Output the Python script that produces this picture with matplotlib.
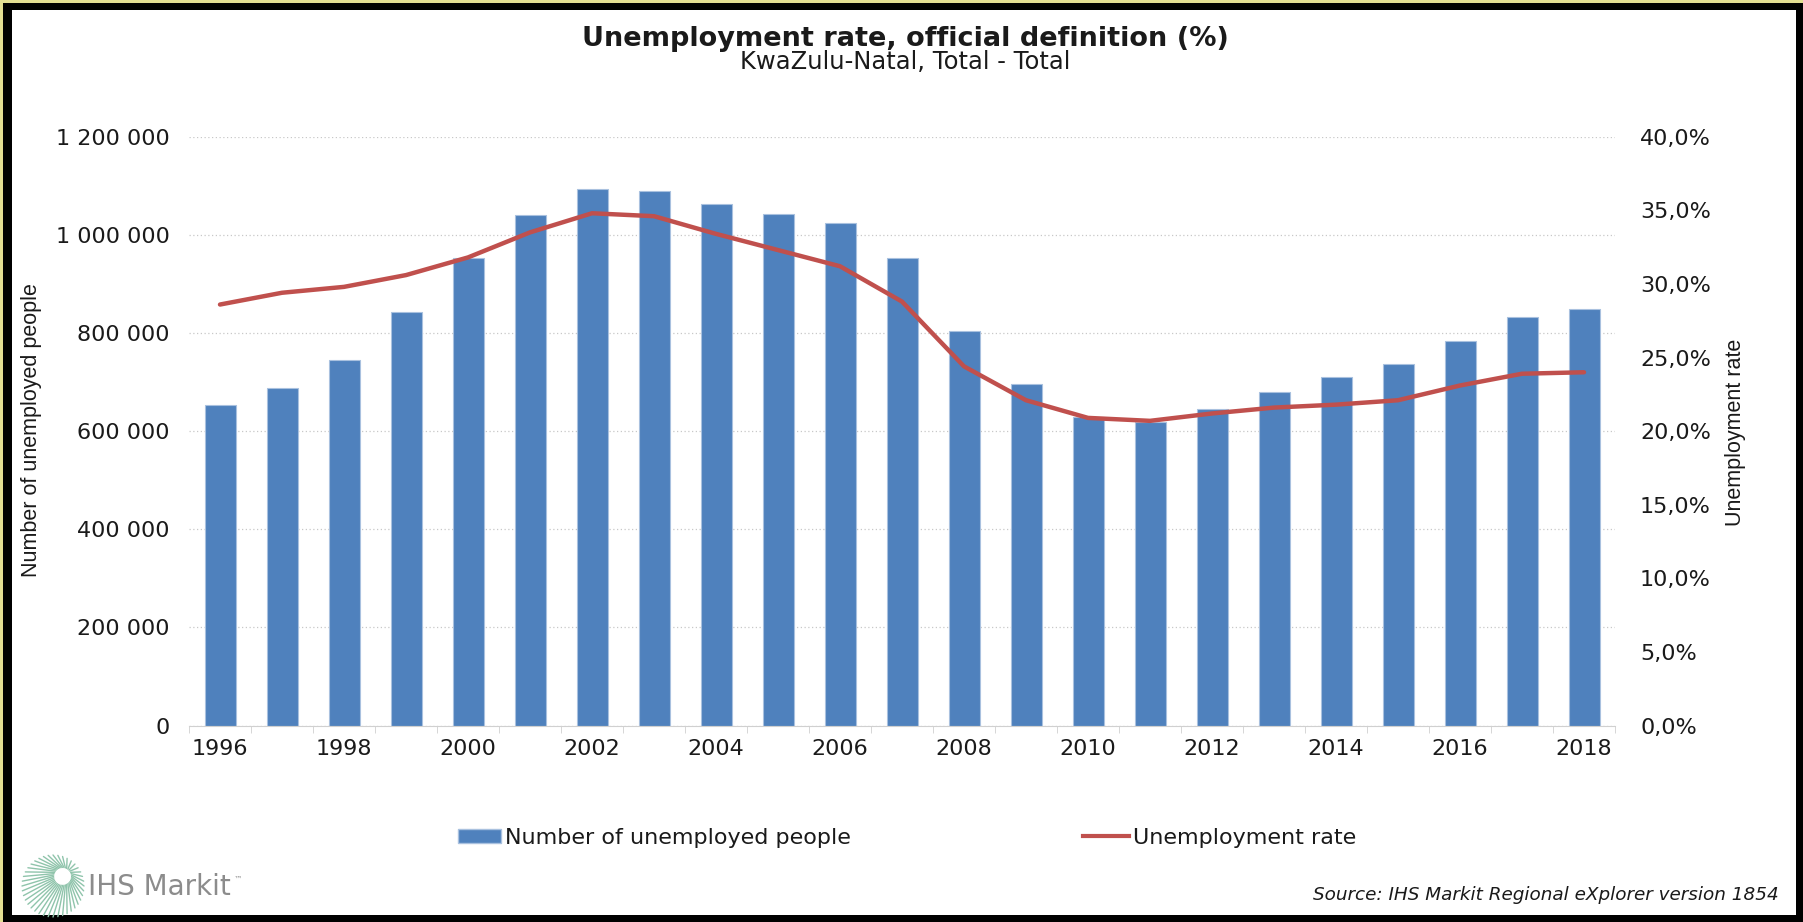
import matplotlib
matplotlib.use('Agg')
import matplotlib.pyplot as plt
from matplotlib.patches import Rectangle, Patch
from matplotlib.lines import Line2D
from matplotlib.ticker import FuncFormatter, MultipleLocator
import numpy as np

# KwaZulu-Natal unemployment, official definition
years = list(range(1996, 2019))
unemployed = [653000, 688000, 745000, 843000, 952000, 1040000, 1093000, 1089000,
              1062000, 1043000, 1024000, 953000, 804000, 696000, 628000, 618000,
              645000, 680000, 711000, 737000, 783000, 832000, 848000]
rate = [28.6, 29.4, 29.8, 30.6, 31.8, 33.5, 34.8, 34.6, 33.4, 32.3, 31.2, 28.8,
        24.4, 22.1, 20.9, 20.7, 21.2, 21.6, 21.8, 22.1, 23.1, 23.9, 24.0]

title = 'Unemployment rate, official definition (%)'
subtitle = 'KwaZulu-Natal, Total - Total'
source = 'Source: IHS Markit Regional eXplorer version 1854'

bar_color = '#4f81bd'
bar_edge = '#a9c1df'
line_color = '#c0504d'
text_color = '#1a1a1a'

W, H = 1803, 922


def px_box(x0, y0, x1, y1):
    # pixel box (top-left origin) -> figure fraction rect
    return (x0 / W, 1 - y1 / H, (x1 - x0) / W, (y1 - y0) / H)


fig = plt.figure(figsize=(W / 100, H / 100), dpi=100)
fig.patch.set_facecolor('#e2de92')

# black frame with white panel inside
fig.add_artist(Rectangle(px_box(3, 3, W, H)[:2], *px_box(3, 3, W, H)[2:],
                         transform=fig.transFigure, facecolor='black',
                         edgecolor='none', zorder=-10))
fig.add_artist(Rectangle(px_box(12, 10, 1796, 915)[:2], *px_box(12, 10, 1796, 915)[2:],
                         transform=fig.transFigure, facecolor='white',
                         edgecolor='none', zorder=-9))

ax = fig.add_axes(px_box(189, 136.7, 1615, 725.6))
ax.set_facecolor('none')
x = np.arange(len(years))

ax.bar(x, unemployed, width=0.5, color=bar_color, edgecolor=bar_edge,
       linewidth=0.8, zorder=2)
ax.set_xlim(-0.5, len(years) - 0.5)
ax.set_ylim(0, 1200000)
ax.yaxis.set_major_locator(MultipleLocator(200000))
ax.yaxis.set_major_formatter(FuncFormatter(lambda v, _: f"{int(v):,}".replace(',', ' ')))
ax.grid(axis='y', linestyle=(0, (1, 2)), color='#c8c8c8', linewidth=0.9)
ax.set_axisbelow(True)
for s in ['top', 'right', 'left']:
    ax.spines[s].set_visible(False)
ax.spines['bottom'].set_color('#d0d0d0')
ax.set_xticks(x[::2])
ax.set_xticklabels(years[::2])
ax.set_xticks(np.arange(-0.5, len(years)), minor=True)
ax.tick_params(axis='x', which='major', length=0, pad=10, labelsize=16,
               labelcolor=text_color)
ax.tick_params(axis='x', which='minor', length=5, color='#d0d0d0')
ax.tick_params(axis='y', length=0, pad=14, labelsize=16, labelcolor=text_color)

ax2 = ax.twinx()
ax2.plot(x, rate, color=line_color, linewidth=3.2, solid_capstyle='round',
         solid_joinstyle='round')
ax2.set_ylim(0, 40)
ax2.yaxis.set_major_locator(MultipleLocator(5))
ax2.yaxis.set_major_formatter(FuncFormatter(lambda v, _: f"{v:.1f}%".replace('.', ',')))
ax2.tick_params(axis='y', length=0, pad=18, labelsize=16, labelcolor=text_color)
for s in ax2.spines.values():
    s.set_visible(False)

# titles and axis labels
fig.text(0.502, 1 - 39 / H, title, ha='center', va='center', fontsize=19.5,
         fontweight='bold', color=text_color)
fig.text(0.502, 1 - 62 / H, subtitle, ha='center', va='center', fontsize=17.5,
         color=text_color)
fig.text(32 / W, 1 - 430 / H, 'Number of unemployed people', rotation=90,
         ha='center', va='center', fontsize=15.5, family='Liberation Sans',
         color=text_color)
fig.text(1735 / W, 1 - 432 / H, 'Unemployment rate', rotation=90,
         ha='center', va='center', fontsize=15.5, family='Liberation Sans',
         color=text_color)

# legend, two entries spread across the bottom
fs = 16
em = fs * 100 / 72
fig.legend([Patch(facecolor=bar_color, edgecolor=bar_edge)],
           ['Number of unemployed people'], loc='center left',
           bbox_to_anchor=(458 / W, 1 - 838 / H), frameon=False, borderpad=0,
           borderaxespad=0, handlelength=43 / em, handleheight=0.55,
           handletextpad=0.2, fontsize=fs, labelcolor=text_color)
fig.legend([Line2D([], [], color=line_color, linewidth=3)],
           ['Unemployment rate'], loc='center left',
           bbox_to_anchor=(1083 / W, 1 - 838 / H), frameon=False, borderpad=0,
           borderaxespad=0, handlelength=46 / em, handletextpad=0.2,
           fontsize=fs, labelcolor=text_color)

fig.text(1779 / W, 1 - 895 / H, source, ha='right', va='center', fontsize=13.2,
         style='italic', color=text_color)

# IHS Markit logo: starburst plus wordmark
logo_ax = fig.add_axes(px_box(21, 854, 85, 918))
logo_ax.set_xlim(-1, 1)
logo_ax.set_ylim(-1, 1)
logo_ax.axis('off')
hole = np.array([0.3, 0.3])
for a in np.linspace(0, 2 * np.pi, 40, endpoint=False):
    d = np.array([np.cos(a), np.sin(a)])
    start = hole + 0.28 * d
    end = 0.97 * d
    if np.dot(end - start, d) > 0.05:
        logo_ax.plot([start[0], end[0]], [start[1], end[1]], color='#8fc4ab',
                     linewidth=1.0, solid_capstyle='round')
fig.text(88 / W, 1 - 887 / H, 'IHS Markit', ha='left', va='center',
         fontsize=20, color='#8c8c8c')
fig.text(234 / W, 1 - 879 / H, '\u2122', ha='left', va='center',
         fontsize=6, color='#8c8c8c')

fig.savefig('out.png', dpi=100, facecolor=fig.get_facecolor())
